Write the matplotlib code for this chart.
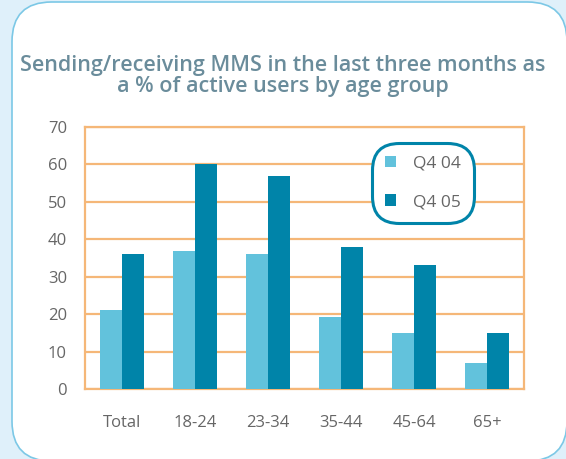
import numpy as np
import matplotlib.pyplot as plt
from matplotlib.patches import FancyBboxPatch

categorias = ["Total", "18-24", "23-34", "35-44", "45-64", "65+"]
q4_04 = [21, 37, 36, 19.3, 15, 7]
q4_05 = [36, 60, 57, 38, 33, 15]
series = ["Q4 04", "Q4 05"]

color_claro = "#62c2dc"
color_oscuro = "#0084a9"
color_grid = "#f5b778"
color_texto = "#666666"

plt.rcParams['font.family'] = ['Open Sans', 'DejaVu Sans']

fig = plt.figure(figsize=(5.66, 4.59), dpi=100)
fig.patch.set_facecolor("#dff0fa")

# panel blanco redondeado
W, H = 566, 459
panel = FancyBboxPatch((12 / W, -2 / H), 555 / W, 459 / H,
                       boxstyle="round,pad=0,rounding_size=0.07",
                       transform=fig.transFigure, facecolor="white",
                       edgecolor="#7cc8e6", linewidth=1.2, zorder=-5,
                       mutation_aspect=W / H)
fig.patches.append(panel)

fig.text(283 / W, 1 - 76 / H, "Sending/receiving MMS in the last three months as\na % of active users by age group",
         ha="center", va="center", fontsize=15.5, fontweight="semibold",
         color="#6a8c9b", linespacing=0.95)

ax = fig.add_axes([85 / W, 1 - 389 / H, (524 - 85) / W, (389 - 127) / H])
ax.set_facecolor("none")

x = np.arange(len(categorias))
ancho = 0.3
ax.bar(x - ancho / 2, q4_04, ancho, color=color_claro, label=series[0], zorder=3)
ax.bar(x + ancho / 2, q4_05, ancho, color=color_oscuro, label=series[1], zorder=3)

ax.set_xlim(-0.5, 5.5)
ax.set_ylim(0, 70)
ax.set_yticks(range(0, 71, 10))
ax.set_xticks(x)
ax.set_xticklabels(categorias)
ax.yaxis.grid(True, color=color_grid, linewidth=1.6, zorder=1)
ax.set_axisbelow(True)
for s in ax.spines.values():
    s.set_color(color_grid)
    s.set_linewidth(1.6)
ax.tick_params(length=0, labelsize=12, colors=color_texto)
ax.tick_params(axis="x", pad=19)
ax.tick_params(axis="y", pad=13)

leg = ax.legend(loc="center", bbox_to_anchor=((423 - 85) / 439, (389 - 183) / 262),
                frameon=True, fontsize=12.5, handlelength=0.65, handleheight=0.65,
                labelspacing=1.3, borderpad=0.5, handletextpad=1.0,
                labelcolor=color_texto)
frame = leg.get_frame()
frame.set_edgecolor(color_oscuro)
frame.set_linewidth(2.2)
frame.set_facecolor("white")
frame.set_alpha(1)
frame.set_boxstyle("round,pad=0.25,rounding_size=1.6")

fig.savefig("out.png", dpi=100, facecolor=fig.get_facecolor())
